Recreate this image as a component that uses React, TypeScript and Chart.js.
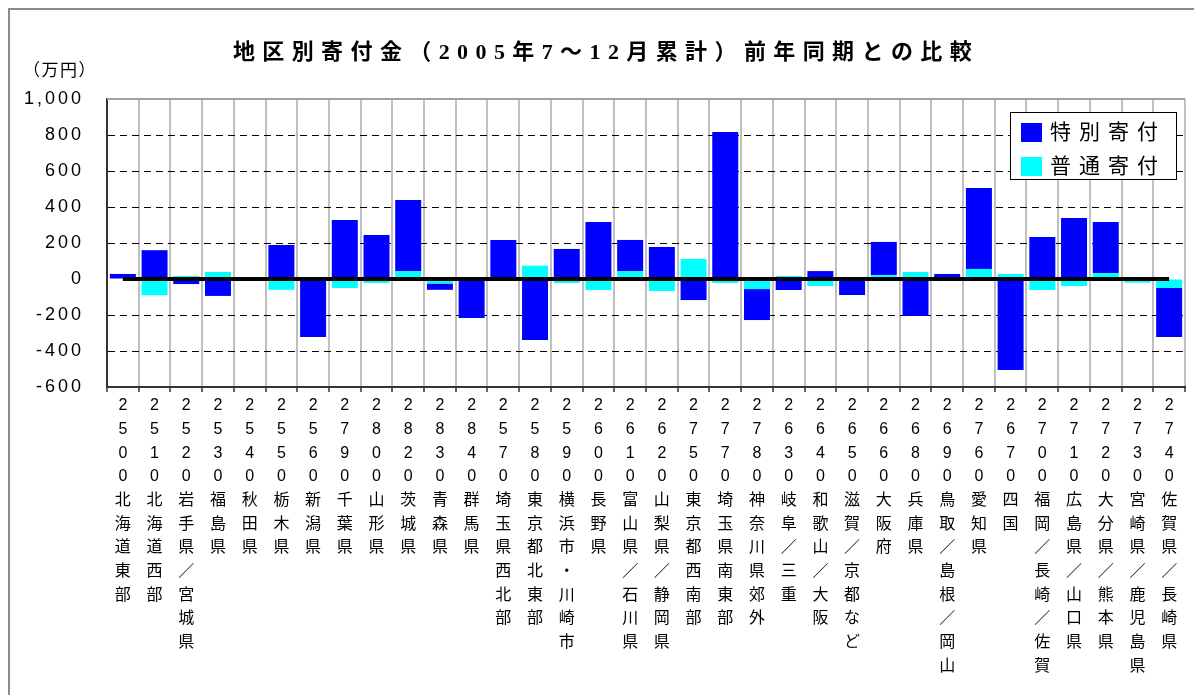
import React, { useEffect, useRef } from "react";
import { Chart, registerables } from "chart.js";

Chart.register(...registerables);

const titleText = "地区別寄付金（2005年7～12月累計）前年同期との比較";
const unitText = "（万円）";

const codes = [
  "2500", "2510", "2520", "2530", "2540", "2550", "2560", "2790", "2800", "2820",
  "2830", "2840", "2570", "2580", "2590", "2600", "2610", "2620", "2750", "2770",
  "2780", "2630", "2640", "2650", "2660", "2680", "2690", "2760", "2670", "2700",
  "2710", "2720", "2730", "2740",
];

const names = [
  "北海道東部", "北海道西部", "岩手県／宮城県", "福島県", "秋田県", "栃木県", "新潟県",
  "千葉県", "山形県", "茨城県", "青森県", "群馬県", "埼玉県西北部", "東京都北東部",
  "横浜市・川崎市", "長野県", "富山県／石川県", "山梨県／静岡県", "東京都西南部",
  "埼玉県南東部", "神奈川県郊外", "岐阜／三重", "和歌山／大阪", "滋賀／京都など",
  "大阪府", "兵庫県", "鳥取／島根／岡山", "愛知県", "四国", "福岡／長崎／佐賀",
  "広島県／山口県", "大分県／熊本県", "宮崎県／鹿児島県", "佐賀県／長崎県",
];

// 特別寄付 (blue)
const specialDonation = [
  28, 160, -28, -94, 0, 189, -322, 328, 244, 395,
  -35, -217, 217, -339, 167, 317, 173, 178, -117, 817,
  -172, -61, 44, -89, 184, -206, 28, 450, -506, 233,
  339, 284, 8, -272,
];

// 普通寄付 (cyan)
const regularDonation = [
  0, -90, 17, 39, 0, -60, 0, -50, -22, 44,
  -25, 0, 0, 74, -22, -61, 44, -67, 111, -22,
  -56, 17, -39, 0, 22, 39, 0, 56, 28, -61,
  -39, 33, -20, -50,
];

// reference zero line
const baseline = [
  0, 0, 0, 0, 0, 0, 0, 0, 0, 0,
  0, 0, 0, 0, 0, 0, 0, 0, 0, 0,
  0, 0, 0, 0, 0, 0, 0, 0, 0, 0,
  0, 0, 0, 0,
];

const yMin = -600;
const yMax = 1000;
const yStep = 200;

const seriesNames = ["普通寄付", "特別寄付"];
const seriesColors = ["#00FFFF", "#0000FF"];

const sansFamily = '"Liberation Sans", "Noto Sans CJK JP", sans-serif';
const serifFamily = '"Liberation Serif", "Noto Sans CJK JP", serif';

const labels = codes.map((c, i) => Array.from(c + names[i]));

const decorPlugin = {
  id: "decor",
  afterDatasetsDraw(chart: any) {
    chart.ctx.letterSpacing = "3px";
  },
  afterDraw(chart: any) {
    const ctx = chart.ctx;
    const area = chart.chartArea;
    ctx.save();
    ctx.letterSpacing = "0px";

    // top border of plot area
    ctx.strokeStyle = "#A0A0A0";
    ctx.lineWidth = 2;
    ctx.beginPath();
    ctx.moveTo(area.left, area.top);
    ctx.lineTo(area.right, area.top);
    ctx.stroke();

    // outer frame
    ctx.strokeStyle = "#8C8C8C";
    ctx.lineWidth = 2;
    ctx.beginPath();
    ctx.moveTo(9, chart.height);
    ctx.lineTo(9, 9);
    ctx.lineTo(chart.width, 9);
    ctx.stroke();

    // title
    ctx.fillStyle = "#000";
    ctx.font = `bold 22px ${serifFamily}`;
    ctx.letterSpacing = "7.4px";
    ctx.textBaseline = "middle";
    ctx.textAlign = "center";
    ctx.fillText(titleText, 606, 53);

    // unit
    ctx.font = `17px ${sansFamily}`;
    ctx.letterSpacing = "1.5px";
    ctx.textAlign = "left";
    ctx.fillText(unitText, 23, 71);

    // legend
    const bx = 1010, by = 112, bw = 166, bh = 67;
    ctx.fillStyle = "#fff";
    ctx.fillRect(bx, by, bw, bh);
    ctx.strokeStyle = "#000";
    ctx.lineWidth = 1;
    ctx.strokeRect(bx + 0.5, by + 0.5, bw, bh);
    const legendItems = chart.data.datasets
      .filter((d: any) => d.type !== "line")
      .slice()
      .reverse();
    legendItems.forEach((d: any, i: number) => {
      const cy = 132 + i * 34;
      ctx.fillStyle = d.backgroundColor;
      ctx.fillRect(1021, cy - 9, 21, 19);
      ctx.fillStyle = "#000";
      ctx.font = `21px ${sansFamily}`;
      ctx.letterSpacing = "8px";
      ctx.textAlign = "left";
      ctx.textBaseline = "middle";
      ctx.fillText(d.label, 1050, cy + 1);
    });

    ctx.restore();
    ctx.letterSpacing = "0px";
  },
};

export default function App() {
  const canvasRef = useRef<HTMLCanvasElement | null>(null);

  useEffect(() => {
    const canvas = canvasRef.current;
    if (!canvas) return;
    const chart = new Chart(canvas, {
      type: "bar",
      data: {
        labels,
        datasets: [
          {
            type: "line",
            label: "base",
            data: baseline,
            borderColor: "#000",
            borderWidth: 4,
            pointRadius: 0,
            fill: false,
            order: 0,
          } as any,
          {
            label: seriesNames[0],
            data: regularDonation,
            backgroundColor: seriesColors[0],
            borderWidth: 0,
            order: 1,
          },
          {
            label: seriesNames[1],
            data: specialDonation,
            backgroundColor: seriesColors[1],
            borderWidth: 0,
            order: 2,
          },
        ],
      },
      options: {
        animation: false,
        responsive: false,
        devicePixelRatio: 1,
        layout: { padding: { top: 99, right: 9, left: 0, bottom: 0 } },
        datasets: {
          bar: { barPercentage: 0.82, categoryPercentage: 1.0 },
        },
        plugins: {
          legend: { display: false },
          title: { display: false },
          tooltip: { enabled: false },
        },
        scales: {
          x: {
            stacked: true,
            afterFit: (scale: any) => {
              scale.height = 308;
            },
            grid: {
              offset: true,
              color: "#C0C0C0",
              lineWidth: 2,
              tickColor: "#333",
              tickLength: 5,
              tickWidth: 1.5,
            },
            border: { color: "#333", width: 2 },
            ticks: {
              autoSkip: false,
              maxRotation: 0,
              minRotation: 0,
              padding: 2,
              color: "#000",
              font: { family: sansFamily, size: 16, lineHeight: 1.48 },
            },
          },
          y: {
            stacked: true,
            min: yMin,
            max: yMax,
            afterFit: (scale: any) => {
              scale.width = 107;
            },
            grid: {
              drawTicks: false,
              lineWidth: 1,
              color: (ctx: any) =>
                ctx.tick && (ctx.tick.value === yMax || ctx.tick.value === yMin || ctx.tick.value === 0)
                  ? "rgba(0,0,0,0)"
                  : "#000",
            },
            border: { color: "#333", width: 2, dash: [7, 5] },
            ticks: {
              stepSize: yStep,
              padding: 23,
              color: "#000",
              z: 1,
              font: { family: sansFamily, size: 18 },
              callback: (v: any) => Number(v).toLocaleString("en-US"),
            },
          },
        },
      },
      plugins: [decorPlugin],
    });
    return () => chart.destroy();
  }, []);

  return (
    <div
      style={{
        position: "fixed",
        left: 0,
        top: 0,
        width: 1194,
        height: 695,
        overflow: "hidden",
        background: "#fff",
      }}
    >
      <canvas
        ref={canvasRef}
        width={1194}
        height={695}
        style={{ display: "block", width: 1194, height: 695 }}
      />
    </div>
  );
}
